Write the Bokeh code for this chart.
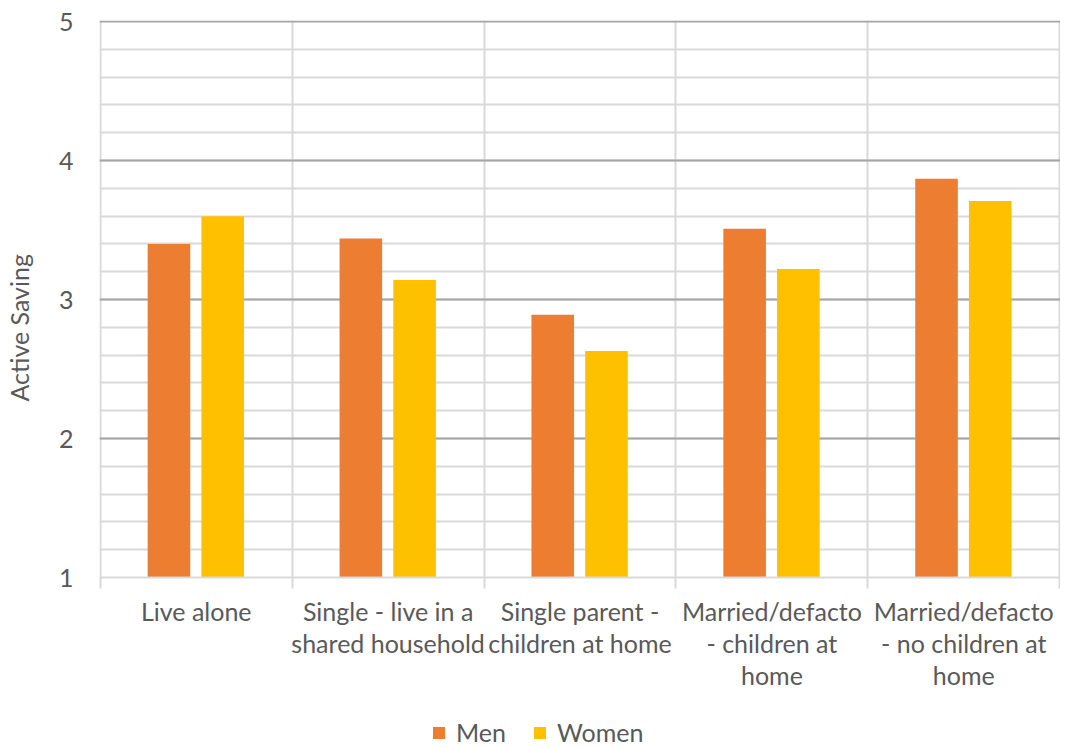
from bokeh.plotting import figure
from bokeh.models import FixedTicker, Range1d, Legend, LegendItem, ColumnDataSource
from bokeh.layouts import column
from bokeh.embed import file_html
from bokeh.resources import INLINE

categories = ["Live alone", "Single - live in a\nshared household", "Single parent -\nchildren at home",
              "Married/defacto\n- children at\nhome", "Married/defacto\n- no children at\nhome"]
men = [3.40, 3.44, 2.89, 3.51, 3.87]
women = [3.60, 3.14, 2.63, 3.22, 3.71]
y_ticks = [1, 2, 3, 4, 5]
series_names = ["Men", "Women"]
series_colors = ["#ED7D31", "#FFC000"]

FONT = "Lato"
TXT = "#595959"

centers = [i + 0.5 for i in range(len(categories))]
src = ColumnDataSource(dict(
    xm=[c - 0.142 for c in centers], xw=[c + 0.138 for c in centers],
    men=men, women=women))

p = figure(width=1060, height=700, output_backend="svg", toolbar_location=None,
           x_range=Range1d(-0.004, len(categories) + 0.004), y_range=Range1d(1, 5.008),
           min_border_left=91, min_border_top=20, min_border_right=0, min_border_bottom=123)
p.outline_line_color = None
p.background_fill_color = "white"
p.border_fill_color = "white"

p.vbar(x="xm", top="men", bottom=1, width=0.222, source=src,
       fill_color=series_colors[0], line_color=None)
p.vbar(x="xw", top="women", bottom=1, width=0.222, source=src,
       fill_color=series_colors[1], line_color=None)

# y axis
p.yaxis.ticker = FixedTicker(ticks=y_ticks)
p.yaxis.axis_line_color = None
p.yaxis.major_tick_line_color = None
p.yaxis.minor_tick_line_color = None
p.yaxis.major_label_text_font = FONT
p.yaxis.major_label_text_font_size = "25px"
p.yaxis.major_label_text_color = TXT
p.yaxis.major_label_standoff = 20
p.yaxis.axis_label = "Active Saving" + "\u00a0" * 9
p.yaxis.axis_label_text_font = FONT
p.yaxis.axis_label_text_font_size = "25px"
p.yaxis.axis_label_text_font_style = "normal"
p.yaxis.axis_label_text_color = TXT
p.yaxis.axis_label_standoff = 22

# x axis
p.xaxis.ticker = FixedTicker(ticks=centers, minor_ticks=list(range(len(categories) + 1)))
p.xaxis.major_label_overrides = {c: lab for c, lab in zip(centers, categories)}
p.xaxis.major_tick_line_color = None
p.xaxis.minor_tick_line_color = "#D9D9D9"
p.xaxis.minor_tick_line_width = 2
p.xaxis.minor_tick_out = 11
p.xaxis.minor_tick_in = 0
p.xaxis.axis_line_color = "#D9D9D9"
p.xaxis.axis_line_width = 2
p.xaxis.major_label_text_font = FONT
p.xaxis.major_label_text_font_size = "25px"
p.xaxis.major_label_text_color = TXT
p.xaxis.major_label_text_line_height = 1.07
p.xaxis.major_label_standoff = 7

# grids
p.ygrid.ticker = FixedTicker(ticks=y_ticks, minor_ticks=[1 + 0.2 * k for k in range(1, 20)])
p.ygrid.grid_line_color = "#A6A6A6"
p.ygrid.grid_line_width = 2
p.ygrid.minor_grid_line_color = "#D9D9D9"
p.ygrid.minor_grid_line_width = 2
p.xgrid.ticker = FixedTicker(ticks=list(range(len(categories) + 1)))
p.xgrid.grid_line_color = "#D9D9D9"
p.xgrid.grid_line_width = 2

# legend strip (same series, drawn outside its visible range so only the legend shows)
lg = figure(width=1060, height=47, output_backend="svg", toolbar_location=None,
            x_range=Range1d(-20, -19), y_range=Range1d(-20, -19),
            min_border_left=0, min_border_right=0, min_border_top=0, min_border_bottom=0)
lg.axis.visible = False
lg.grid.visible = False
lg.outline_line_color = None
items = []
for name, col, xf, tf in zip(series_names, series_colors, ["xm", "xw"], ["men", "women"]):
    r = lg.vbar(x=xf, top=tf, bottom=1, width=0.222, source=src, fill_color=col, line_color=None)
    items.append(LegendItem(label=name, renderers=[r]))
legend = Legend(items=items, orientation="horizontal", location=(332, 0),
                border_line_color=None, background_fill_alpha=0,
                label_text_font=FONT, label_text_font_size="25px", label_text_color=TXT,
                glyph_width=15, glyph_height=15, spacing=26, label_standoff=10,
                padding=0, margin=0)
lg.add_layout(legend, "center")

open("out.html", "w").write(file_html(column(p, lg, spacing=0), INLINE))
